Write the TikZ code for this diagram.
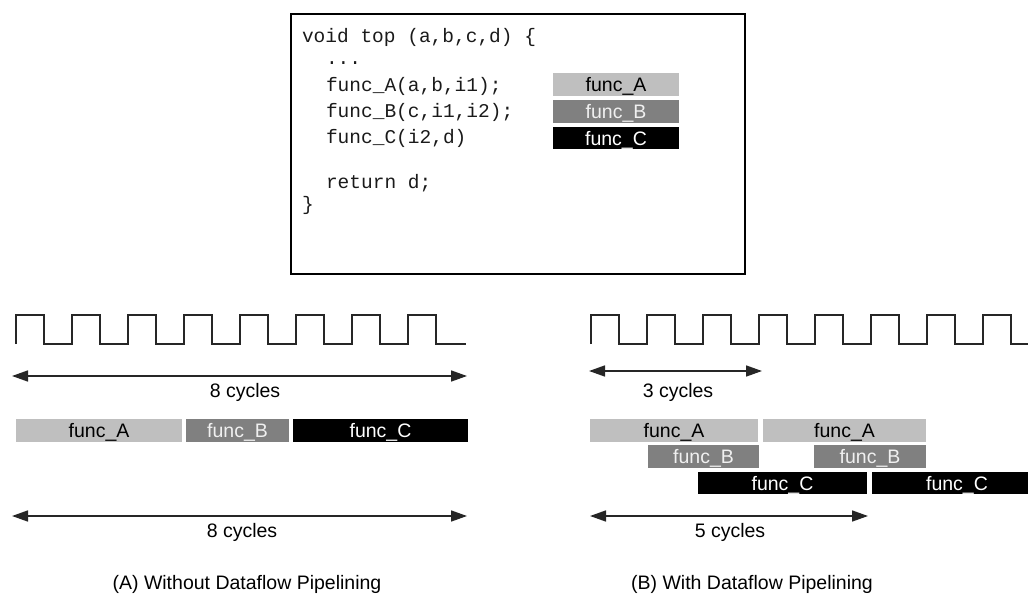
\documentclass[tikz,border=0pt]{standalone}
\usepackage{fontspec}
\setmainfont{Liberation Sans}
\newfontfamily\codefont{Liberation Mono}
\usetikzlibrary{arrows.meta}
\definecolor{fa}{HTML}{BFBFBF}
\definecolor{fb}{HTML}{808080}
\definecolor{codegray}{HTML}{1A1A1A}
\begin{document}
\begin{tikzpicture}[x=1pt,y=-1pt,
  every node/.style={font=\fontsize{19.5}{23}\selectfont, inner sep=0pt, outer sep=0pt},
  bar/.style={minimum height=23pt, text height=14pt, text depth=0pt, anchor=center},
  barA/.style={bar, fill=fa, text=black},
  barB/.style={bar, fill=fb, text=white!94!black},
  barC/.style={bar, fill=black, text=white},
  code/.style={font=\codefont\fontsize{19.5}{23}\selectfont, text=codegray, anchor=base west},
  clock/.style={line width=1.8pt, line join=miter, black!85},
  dimarrow/.style={line width=1.6pt, black!85, {Triangle[length=16pt,width=11pt]}-{Triangle[length=16pt,width=11pt]}},
  lbl/.style={anchor=base}
]
\useasboundingbox (0,0) rectangle (1028,594);

% code box
\draw[line width=2.5pt] (291,14) rectangle (745,274);
\node[code] (l1) at (302,43) {void top (a,b,c,d) \{};
\node[code] (l2) at (326,65) {...};
\node[code] (l3) at (326,92) {func\_A(a,b,i1);};
\node[code] (l4) at (326,117) {func\_B(c,i1,i2);};
\node[code] (l5) at (326,143) {func\_C(i2,d)};
\node[code] (l6) at (326,188) {return d;};
\node[code] (l7) at (302,210) {\}};

\node[barA, minimum width=126pt] (ka) at (616,84.5) {func\_A};
\node[barB, minimum width=126pt] (kb) at (616,111.5) {func\_B};
\node[barC, minimum width=126pt, minimum height=22pt] (kc) at (616,138) {func\_C};

% left clock
\draw[clock] (16,344)
  \foreach \k in {0,...,7} { -- ({16+56*\k},315) -- ({44+56*\k},315) -- ({44+56*\k},344) -- ({72+56*\k},344) }
  -- (466,344);
% right clock
\draw[clock] (591,344)
  \foreach \k in {0,...,7} { -- ({591+56*\k},315) -- ({619+56*\k},315) -- ({619+56*\k},344) -- ({647+56*\k},344) }
  -- (1040,344);

% left dimension arrows
\coordinate (al1) at (12,376);
\coordinate (ar1) at (467,376);
\draw[dimarrow] (al1) -- (ar1);
\node[lbl] (t1) at (245,397) {8 cycles};

\coordinate (al2) at (12,516);
\coordinate (ar2) at (467,516);
\draw[dimarrow] (al2) -- (ar2);
\node[lbl] (t2) at (242,537) {8 cycles};

% right dimension arrows
\coordinate (bl1) at (589,371);
\coordinate (br1) at (762,371);
\draw[dimarrow] (bl1) -- (br1);
\node[lbl] (t3) at (678,397) {3 cycles};

\coordinate (bl2) at (590,516);
\coordinate (br2) at (868,516);
\draw[dimarrow] (bl2) -- (br2);
\node[lbl] (t4) at (730,537) {5 cycles};

% left bars
\node[barA, minimum width=166pt] (la) at (99,430.5) {func\_A};
\node[barB, minimum width=103pt] (lb) at (237.5,430.5) {func\_B};
\node[barC, minimum width=175pt] (lc) at (380.5,430.5) {func\_C};

% right bars
\node[barA, minimum width=168pt] (ra1) at (674,430.5) {func\_A};
\node[barA, minimum width=163pt] (ra2) at (844.5,430.5) {func\_A};
\node[barB, minimum width=111pt] (rb1) at (703.5,456.5) {func\_B};
\node[barB, minimum width=112pt] (rb2) at (870,456.5) {func\_B};
\node[barC, minimum width=169pt, minimum height=22pt] (rc1) at (782.5,483) {func\_C};
\node[barC, minimum width=170pt, minimum height=22pt] (rc2) at (957,483) {func\_C};

% captions
\node[lbl] (capA) at (247,589) {(A) Without Dataflow Pipelining};
\node[lbl] (capB) at (752,589) {(B) With Dataflow Pipelining};
\end{tikzpicture}
\end{document}
